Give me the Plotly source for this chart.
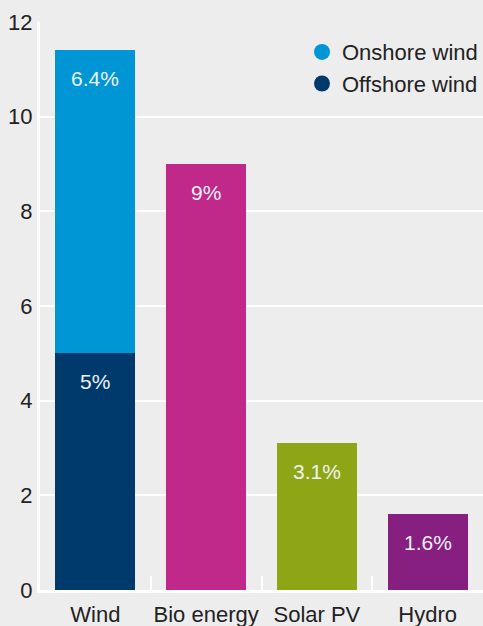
import plotly.graph_objects as go

categories = ["Wind", "Bio energy", "Solar PV", "Hydro"]
offshore = [5.0, None, None, None]
onshore = [6.4, None, None, None]
single = [None, 9.0, 3.1, 1.6]
single_colors = ["#c0288a", "#c0288a", "#8ea615", "#871f80"]
y_ticks = [0, 2, 4, 6, 8, 10, 12]

c_on = "#0096d6"
c_off = "#003a6c"
font = "Liberation Sans, Arial, sans-serif"
no_line = dict(width=0)

fig = go.Figure()
fig.add_bar(x=categories, y=offshore, marker=dict(color=c_off, line=no_line),
            width=0.724, showlegend=False, hoverinfo="skip")
fig.add_bar(x=categories, y=onshore, marker=dict(color=c_on, line=no_line),
            width=0.724, showlegend=False, hoverinfo="skip")
fig.add_bar(x=categories, y=single, marker=dict(color=single_colors, line=no_line),
            width=0.724, showlegend=False, hoverinfo="skip")

# legend entries with round swatches
fig.add_scatter(x=[None], y=[None], mode="markers", name="Onshore wind",
                marker=dict(color=c_on, size=18, symbol="circle"))
fig.add_scatter(x=[None], y=[None], mode="markers", name="Offshore wind",
                marker=dict(color=c_off, size=18, symbol="circle"))

# value labels just under the top of each segment
labels = []
for i, cat in enumerate(categories):
    if offshore[i] is not None:
        labels.append((cat, offshore[i], f"{offshore[i]:g}%"))
        labels.append((cat, offshore[i] + onshore[i], f"{onshore[i]:g}%"))
    if single[i] is not None:
        labels.append((cat, single[i], f"{single[i]:g}%"))
for cat, top, txt in labels:
    fig.add_annotation(x=cat, y=top, text=txt, showarrow=False, yshift=-28,
                       font=dict(color="#eef2f6", size=21, family=font))

fig.update_layout(
    width=483, height=626,
    margin=dict(l=40, r=0, t=22, b=36, autoexpand=False),
    paper_bgcolor="#ededed", plot_bgcolor="#ededed",
    barmode="stack", bargap=0.276,
    font=dict(family=font, size=22, color="#222222"),
    legend=dict(x=1, y=0.984, xanchor="right", yanchor="top",
                traceorder="normal",
                bgcolor="rgba(0,0,0,0)", font=dict(size=22, color="#222222"),
                itemsizing="trace", tracegroupgap=0, itemwidth=30),
)
fig.update_xaxes(
    type="category", categoryorder="array", categoryarray=categories,
    range=[-0.5, 3.5], showgrid=False, automargin=False, tickangle=0,
    showline=True, linecolor="white", linewidth=3,
    ticks="inside", tickson="boundaries", ticklen=14, tickwidth=2,
    ticklabelstandoff=3,
    tickcolor="white", tickfont=dict(size=22, color="#222222"),
)
fig.update_yaxes(
    range=[0, 12], tickvals=y_ticks, showgrid=True, gridcolor="white",
    gridwidth=2, zeroline=False, showline=True, linecolor="white",
    automargin=False,
    linewidth=3, ticks="", tickfont=dict(size=22, color="#222222"),
)

fig.write_html("out.html")
